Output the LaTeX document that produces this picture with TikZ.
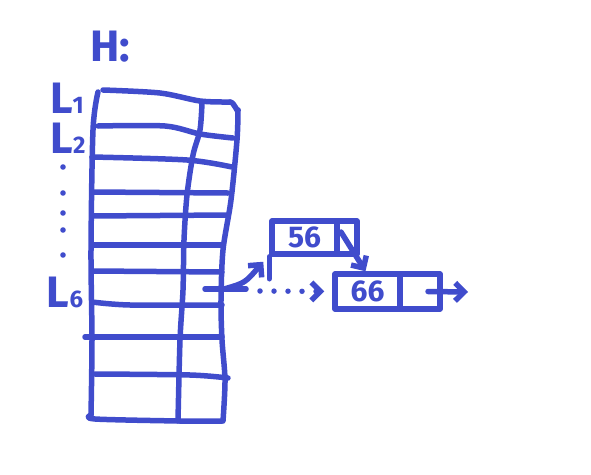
\documentclass[tikz,border=0pt]{standalone}
\usepackage{fontspec}
\setmainfont{Fira Sans}
\usetikzlibrary{arrows.meta}
\definecolor{ink}{RGB}{64,76,204}
\begin{document}
\begin{tikzpicture}[x=1pt,y=-1pt,
  pen/.style={draw=ink,line width=5.5pt,line cap=round,line join=round},
  lbl/.style={text=ink,inner sep=0pt,font=\bfseries\fontsize{44}{44}\selectfont},
  cell/.style={pen,rectangle,inner sep=0pt,text=ink,font=\bfseries\fontsize{30}{30}\selectfont},
  barb/.style={-{Straight Barb[length=9pt,width=18pt]}},
  dot/.style={fill=ink}
]
\useasboundingbox (0,0) rectangle (591,474);

% labels
\node[lbl] (H) at (110,47) {H:};
\node[lbl] (L1) at (67,98) {L{\fontsize{24}{24}\selectfont 1}};
\node[lbl] (L2) at (68,138) {L{\fontsize{24}{24}\selectfont 2}};
\node[lbl] (L6) at (65,292) {L{\fontsize{24}{24}\selectfont 6}};
\foreach \yy in {167,193,213,230,255} \fill[dot] (63,\yy) circle (2.8pt);

% table
\draw[pen] plot[smooth] coordinates {(98,92) (93,130) (91,250) (92,340) (91,415)};
\draw[pen] plot[smooth] coordinates {(103,90) (160,93) (200,101) (230,102)};
\draw[pen] (230,102) to[out=0,in=-90] (238,110);
\draw[pen] plot[smooth] coordinates {(238,110) (237,140) (231,200) (223,250) (221,300) (222,340) (225,380) (223,421)};
\draw[pen] plot[smooth] coordinates {(202,103) (200,130) (193,155) (187,195) (184,240) (183,290) (180,340) (178,421)};
\draw[pen] plot[smooth] coordinates {(91,415) (95,419) (180,421) (222,421)};
\draw[pen] plot[smooth] coordinates {(98,126) (165,126) (200,134) (233,138)};
\draw[pen] plot[smooth] coordinates {(92,157) (187,160) (232,167)};
\draw[pen] (92,192) -- (228,193);
\draw[pen] (92,216) -- (227,215);
\draw[pen] (92,245) -- (222,245);
\draw[pen] (92,271) -- (222,272);
\draw[pen] plot[smooth] coordinates {(92,302) (130,305) (222,305)};
\draw[pen] (85,337) -- (222,337);
\draw[pen] plot[smooth] coordinates {(95,374) (190,375) (228,378)};

% list nodes
\node[cell,minimum width=65pt,minimum height=33pt] (n56) at (304.5,237.5) {56};
\node[cell,minimum width=20pt,minimum height=33pt] (p56) at (347,237.5) {};
\draw[pen] (n56.south west) -- ++(0,22);
\node[cell,minimum width=65pt,minimum height=35pt] (n66) at (367.5,291.5) {66};
\node[cell,minimum width=40pt,minimum height=35pt] (p66) at (420,291.5) {};

% pointers
\coordinate (ptr) at (205,289);
\coordinate (ptrM) at (224,289);
\coordinate (ptrE) at (246,289);
\coordinate (dotS) at (260,291);
\coordinate (out) at (468,292);
\draw[pen] (ptr) -- (ptrE);
\draw[pen,barb] (ptrM) .. controls (245,283) .. ([xshift=-6pt,yshift=-5pt]n56.south west);
\draw[pen,barb,dash pattern=on 0pt off 14pt,shorten >=8pt] (dotS) -- (n66.west);
\draw[pen,barb] ([xshift=-6pt,yshift=5.5pt]p56.center) -- ([xshift=-2pt]n66.north);
\draw[pen,barb] ([xshift=8pt]p66.center) -- (out);
\end{tikzpicture}
\end{document}
